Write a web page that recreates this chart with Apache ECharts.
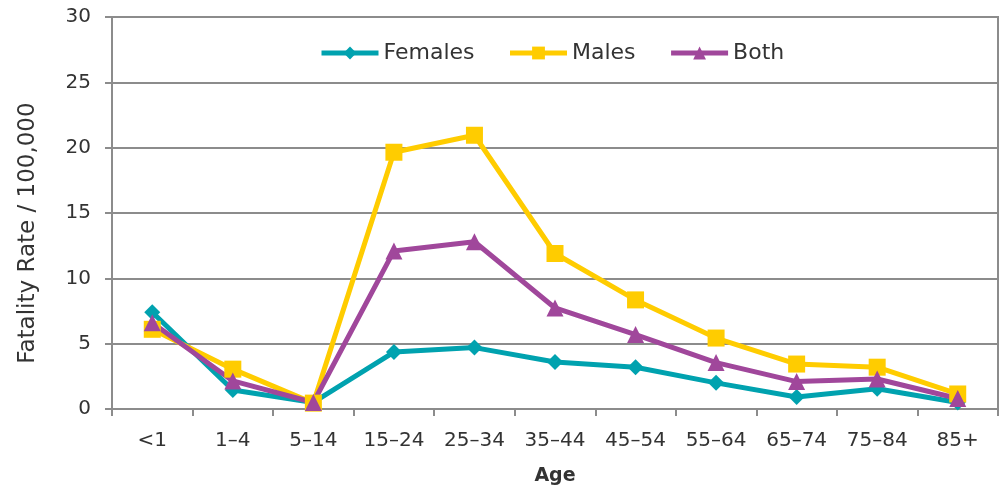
<!DOCTYPE html>
<html>
<head>
<meta charset="utf-8">
<script src="https://cdn.jsdelivr.net/npm/echarts@6/dist/echarts.min.js"></script>
<style>
  html, body { margin: 0; padding: 0; background: #fff; }
  #chart { width: 1004px; height: 491px; }
</style>
</head>
<body>
<div id="chart"></div>
<script>
// Age groups and fatality rates per 100,000
const ageGroups = ['<1', '1–4', '5–14', '15–24', '25–34', '35–44', '45–54', '55–64', '65–74', '75–84', '85+'];
const females = [7.4, 1.45, 0.5, 4.36, 4.7, 3.6, 3.2, 2.0, 0.92, 1.55, 0.5];
const males   = [6.1, 3.05, 0.45, 19.65, 20.95, 11.9, 8.35, 5.43, 3.44, 3.2, 1.15];
const both    = [6.6, 2.15, 0.5, 12.1, 12.8, 7.73, 5.7, 3.55, 2.1, 2.3, 0.8];
const yTicks  = { min: 0, max: 30, interval: 5 };

const gray = '#8c8c8c';
const font = 'DejaVu Sans, Verdana, sans-serif';

function lineSeries(name, data, color, symbol, size) {
  return {
    name, type: 'line', data,
    symbol, symbolSize: size,
    showSymbol: true,
    lineStyle: { color, width: 5 },
    itemStyle: { color },
    emphasis: { disabled: true }
  };
}

const chart = echarts.init(document.getElementById('chart'), null, { renderer: 'canvas' });
chart.setOption({
  animation: false,
  backgroundColor: '#fff',
  textStyle: { fontFamily: font },
  grid: { left: 112, right: 6, top: 17, bottom: 82, show: true, borderColor: gray, borderWidth: 2, backgroundColor: 'transparent' },
  legend: {
    top: 37, left: 314,
    itemWidth: 57, itemHeight: 16, itemGap: 33,
    lineStyle: { width: 5 },
    textStyle: { fontFamily: font, fontSize: 22, color: '#333' },
    data: ['Females', 'Males', 'Both']
  },
  xAxis: {
    type: 'category', data: ageGroups, boundaryGap: true,
    axisLine: { lineStyle: { color: gray, width: 2 } },
    axisTick: { show: true, length: 7, lineStyle: { color: gray, width: 2 } },
    axisLabel: { fontSize: 20, color: '#333', margin: 22, fontFamily: font },
    name: 'Age', nameLocation: 'middle', nameGap: 58,
    nameTextStyle: { fontSize: 19, fontWeight: 'bold', color: '#333', fontFamily: font }
  },
  yAxis: {
    type: 'value', min: yTicks.min, max: yTicks.max, interval: yTicks.interval,
    axisLine: { show: true, lineStyle: { color: gray, width: 2 } },
    axisTick: { show: true, length: 7, lineStyle: { color: gray, width: 2 } },
    splitLine: { lineStyle: { color: gray, width: 2 } },
    axisLabel: { fontSize: 20, color: '#333', margin: 21, fontFamily: font },
    name: 'Fatality Rate / 100,000', nameLocation: 'middle', nameGap: 72,
    nameTextStyle: { fontSize: 23, color: '#333', fontFamily: font, padding: [0, 40, 0, 0] }
  },
  series: [
    lineSeries('Females', females, '#00A2AF', 'diamond', 16),
    lineSeries('Males', males, '#FFCC00', 'rect', 17),
    lineSeries('Both', both, '#A0479B', 'triangle', 17)
  ]
});
</script>
</body>
</html>
